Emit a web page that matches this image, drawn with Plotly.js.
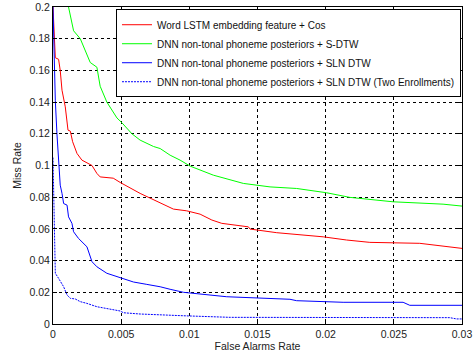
<!DOCTYPE html>
<html>
<head>
<meta charset="utf-8">
<script src="https://cdn.plot.ly/plotly-3.0.1.min.js"></script>
<style>html,body{margin:0;padding:0;background:#fff;}#chart{width:476px;height:354px;}</style>
</head>
<body>
<div id="chart"></div>
<script>
// Series names
const seriesNames = [
  "Word LSTM embedding feature + Cos",
  "DNN non-tonal phoneme posteriors + S-DTW",
  "DNN non-tonal phoneme posteriors + SLN DTW",
  "DNN non-tonal phoneme posteriors + SLN DTW (Two Enrollments)"
];

// Red: Word LSTM embedding feature + Cos
const redX = [0, 0.00017, 0.00041, 0.00053, 0.00066, 0.0009, 0.0011, 0.00127, 0.00144, 0.00176, 0.00212, 0.00237, 0.00286, 0.00322, 0.00346, 0.00442, 0.00493, 0.00639, 0.00786, 0.00883, 0.00981, 0.01079, 0.01165, 0.01238, 0.01433, 0.01445, 0.01641, 0.01982, 0.02153, 0.02324, 0.0269, 0.02861, 0.03];
const redY = [0.2, 0.168, 0.167, 0.16, 0.1475, 0.137, 0.1223, 0.1217, 0.115, 0.1076, 0.1034, 0.1023, 0.1, 0.095, 0.0928, 0.092, 0.0893, 0.0824, 0.0765, 0.0725, 0.0714, 0.0693, 0.0656, 0.0635, 0.0613, 0.0599, 0.0576, 0.055, 0.053, 0.0515, 0.0509, 0.0492, 0.0477];

// Green: DNN + S-DTW
const greenX = [0.00114, 0.00151, 0.002, 0.00273, 0.00322, 0.00346, 0.00395, 0.00469, 0.00505, 0.00579, 0.00639, 0.00737, 0.00786, 0.00859, 0.00932, 0.01006, 0.01176, 0.01396, 0.01592, 0.01787, 0.02007, 0.02177, 0.02495, 0.02861, 0.03];
const greenY = [0.2, 0.185, 0.18, 0.165, 0.162, 0.15, 0.14, 0.13, 0.127, 0.12, 0.116, 0.112, 0.1107, 0.1065, 0.1034, 0.0996, 0.0939, 0.0887, 0.0865, 0.0855, 0.0828, 0.0799, 0.0771, 0.0756, 0.0744];

// Blue solid: DNN + SLN DTW
const blueX = [0, 0.00017, 0.00029, 0.00041, 0.00053, 0.00066, 0.00078, 0.00103, 0.00114, 0.00139, 0.00151, 0.00187, 0.00237, 0.00249, 0.00286, 0.00322, 0.00395, 0.00493, 0.0059, 0.00688, 0.00786, 0.00859, 0.00957, 0.01274, 0.01738, 0.01787, 0.02128, 0.02568, 0.02617, 0.03];
const blueY = [0.2, 0.141, 0.12, 0.099, 0.0876, 0.0824, 0.076, 0.075, 0.0676, 0.0635, 0.0582, 0.054, 0.0498, 0.0487, 0.0393, 0.0361, 0.032, 0.0294, 0.0265, 0.025, 0.0235, 0.0219, 0.02, 0.0172, 0.0156, 0.0147, 0.0137, 0.0137, 0.0118, 0.0118];

// Blue dashed: DNN + SLN DTW (Two Enrollments)
const blue2X = [0, 0.00012, 0.00017, 0.00041, 0.00078, 0.00103, 0.00127, 0.00163, 0.002, 0.00249, 0.00322, 0.00493, 0.00517, 0.00639, 0.00786, 0.00957, 0.013, 0.0291, 0.0296, 0.03];
const blue2Y = [0.105, 0.04, 0.032, 0.0288, 0.0235, 0.0183, 0.0162, 0.0158, 0.0141, 0.013, 0.0109, 0.0082, 0.0071, 0.0063, 0.0057, 0.0052, 0.0042, 0.004, 0.0032, 0.0032];

// Tick labels
const xTickVals = [0, 0.005, 0.01, 0.015, 0.02, 0.025, 0.03];
const xTickText = ["0", "0.005", "0.01", "0.015", "0.02", "0.025", "0.03"];
const yTickVals = [0, 0.02, 0.04, 0.06, 0.08, 0.1, 0.12, 0.14, 0.16, 0.18, 0.2];
const yTickText = ["0", "0.02", "0.04", "0.06", "0.08", "0.1", "0.12", "0.14", "0.16", "0.18", "0.2"];

const FONT = "Liberation Sans, Arial, sans-serif";

const traces = [
  {x: redX, y: redY, name: seriesNames[0], mode: "lines", line: {color: "#ff0000", width: 1}},
  {x: greenX, y: greenY, name: seriesNames[1], mode: "lines", line: {color: "#00ff00", width: 1}},
  {x: blueX, y: blueY, name: seriesNames[2], mode: "lines", line: {color: "#0000ff", width: 1}},
  {x: blue2X, y: blue2Y, name: seriesNames[3], mode: "lines", line: {color: "#0000ff", width: 1, dash: "2px,1px"}}
];

const axisCommon = {
  showline: true, linecolor: "#000", linewidth: 1, mirror: "ticks",
  ticks: "inside", ticklen: 4, tickcolor: "#000",
  showgrid: true, gridcolor: "#000", gridwidth: 1, griddash: "dot",
  zeroline: false, tickfont: {family: FONT, size: 10.5, color: "#222"}
};

const layout = {
  width: 476, height: 354,
  margin: {l: 53, r: 14, t: 7, b: 30, autoexpand: false},
  paper_bgcolor: "#fff", plot_bgcolor: "#fff",
  font: {family: FONT, size: 10.5, color: "#222"},
  xaxis: Object.assign({}, axisCommon, {
    range: [0, 0.03], tickvals: xTickVals, ticktext: xTickText, automargin: false,
    title: {text: "False Alarms Rate", font: {family: FONT, size: 10.5, color: "#222"}, standoff: 4}
  }),
  yaxis: Object.assign({}, axisCommon, {
    range: [0, 0.2], tickvals: yTickVals, ticktext: yTickText, automargin: false,
    title: {text: "Miss Rate", font: {family: FONT, size: 10.5, color: "#222"}, standoff: 5}
  }),
  showlegend: true,
  legend: {
    x: 0.154, y: 0.993, xanchor: "left", yanchor: "top",
    bgcolor: "#fff", bordercolor: "#000", borderwidth: 1,
    font: {family: FONT, size: 10, color: "#111"},
    itemwidth: 30, tracegroupgap: 0
  }
};

Plotly.newPlot("chart", traces, layout, {displayModeBar: false, staticPlot: true});
</script>
</body>
</html>
